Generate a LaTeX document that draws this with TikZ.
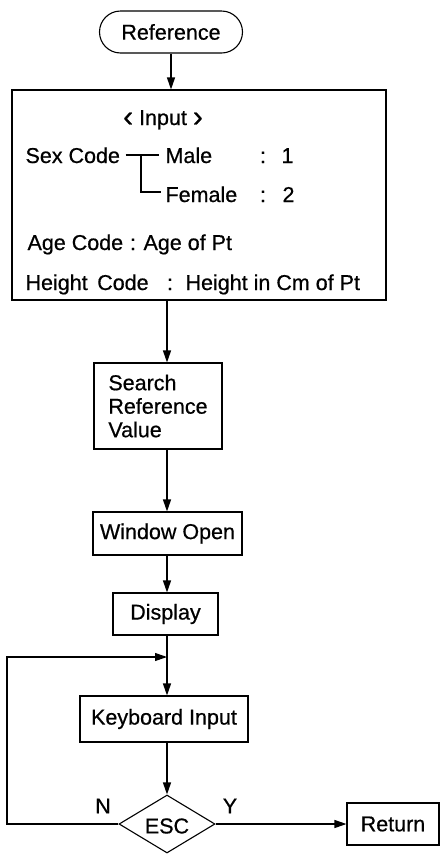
\documentclass[tikz,border=0pt]{standalone}
\usepackage{fontspec}
\setmainfont{Liberation Sans}[FakeBold=0.6]
\usetikzlibrary{arrows.meta,shapes.geometric}
\newcommand{\gl}{{\fontsize{30}{30}\selectfont\raisebox{-1.5pt}{‹}}}
\newcommand{\gr}{{\fontsize{30}{30}\selectfont\raisebox{-1.5pt}{›}}}
\begin{document}
\begin{tikzpicture}[x=1pt,y=-1pt,
  line width=1.1pt,
  font=\fontsize{21.5}{23.5}\selectfont,
  box/.style={draw,rectangle,inner sep=0pt,align=center},
  txt/.style={inner sep=0pt,anchor=base west},
  ctxt/.style={inner sep=0pt,anchor=base},
  arr/.style={-{Triangle[length=12pt,width=8pt]}}
]
\useasboundingbox (0,0) rectangle (442,855);
% nodes
\node[box,rounded corners=21pt,minimum width=143pt,minimum height=42pt] (ref) at (171,32) {Reference};
\node[box,minimum width=374pt,minimum height=210pt] (inbox) at (199,195) {};
\node[ctxt] (inp) at (163,125) {\gl\ Input \gr};
\node[txt] (sex) at (25,163) {Sex Code};
\node[txt] (male) at (165,163) {Male};
\node[ctxt] (c1) at (263,163) {:};
\node[txt] (v1) at (281,163) {1};
\node[txt] (female) at (165,202) {Female};
\node[ctxt] (c2) at (263,202) {:};
\node[txt] (v2) at (282,202) {2};
\node[txt] (age) at (27,250) {Age Code};
\node[ctxt] (c3) at (133,250) {:};
\node[txt] (agev) at (143,250) {Age of Pt};
\node[txt] (hgt) at (25,290) {Height\, Code};
\node[ctxt] (c4) at (170,290) {:};
\node[txt] (hgtv) at (185,290) {Height in Cm of Pt};
\node[box,align=left,inner xsep=14pt,minimum width=128pt,minimum height=86pt] (search) at (158,406) {Search\\Reference\\Value};
\node[box,minimum width=149pt,minimum height=43pt] (window) at (167.5,533.5) {Window Open};
\node[box,minimum width=105pt,minimum height=42pt] (display) at (165.5,614) {Display};
\node[box,minimum width=168pt,minimum height=46pt] (keyb) at (164,719) {Keyboard Input};
\node[draw,diamond,inner sep=0pt,aspect=1.65,minimum width=96pt,minimum height=58pt] (esc) at (167,824) {};
\node (esct) at (167,826) {ESC};
\node[box,minimum width=92pt,minimum height=42pt] (ret) at (393,824) {Return};
\node (n) at (103,806) {N};
\node (y) at (230,806) {Y};
% coordinates
\coordinate (axis) at (167,0);
\coordinate (bv1) at (141,155);
\coordinate (bv2) at (141,192);
\coordinate (loopL) at (7,657);
\coordinate (join) at (167,657);
% bracket
\draw ([xshift=5pt]sex.east |- bv1) -- ([xshift=-6pt]male.west |- bv1);
\draw (bv1) -- (bv2) -- ([xshift=-4pt]female.west |- bv2);
% connectors
\draw[arr] (ref.south) -- (ref.south |- inbox.north);
\draw[arr] (inbox.south -| axis) -- (search.north -| axis);
\draw[arr] (search.south -| axis) -- (window.north -| axis);
\draw[arr] (window.south -| axis) -- (display.north -| axis);
\draw[arr] (display.south -| axis) -- (keyb.north -| axis);
\draw[arr] (keyb.south -| axis) -- (esc.north);
\draw[arr] (esc.west) -| (loopL) -- (join);
\draw[arr] (esc.east) -- (ret.west);
\end{tikzpicture}
\end{document}
